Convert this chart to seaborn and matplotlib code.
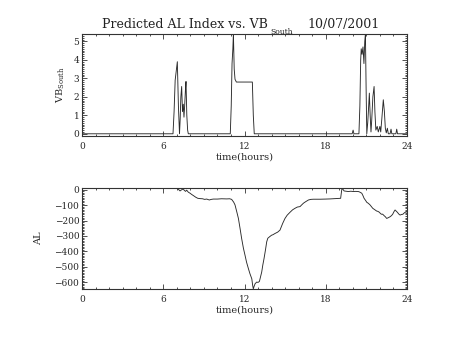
import matplotlib
matplotlib.use("Agg")
import matplotlib.pyplot as plt
import seaborn as sns
import pandas as pd
from matplotlib.ticker import MultipleLocator

# ---------------- data ----------------
vb_time = [0, 6.72, 6.80, 6.88, 6.96, 7.04, 7.12, 7.20, 7.25, 7.30, 7.36, 7.42, 7.48, 7.53,
           7.58, 7.64, 7.68, 7.74, 7.80, 7.85,
           10.95, 11.02, 11.08, 11.14, 11.18, 11.24, 11.30, 11.40, 12.58, 12.65, 12.72,
           19.95, 20.02, 20.08,
           20.45, 20.52, 20.58, 20.62, 20.68, 20.75, 20.82, 20.88, 20.93, 20.98, 21.03,
           21.10, 21.17, 21.22, 21.28, 21.34, 21.39, 21.48, 21.57, 21.63, 21.70, 21.80,
           21.88, 22.00, 22.06, 22.14, 22.25, 22.33, 22.40, 22.47, 22.55, 22.62, 22.75,
           22.82, 22.88, 23.18, 23.24, 23.30, 24.0]
vb_south = [0, 0, 1.2, 2.9, 3.4, 3.9, 1.5, 0, 0.8, 2.0, 2.56, 1.2, 1.6, 0.9,
            1.5, 2.4, 2.83, 1.0, 0.2, 0,
            0, 1.5, 3.8, 4.6, 5.4, 3.5, 2.95, 2.8, 2.8, 1.0, 0,
            0, 0.2, 0,
            0, 1.5, 4.0, 4.6, 4.3, 4.7, 3.8, 5.0, 5.4, 2.5, 0,
            0.6, 1.5, 2.2, 1.0, 0.1, 0.67, 2.0, 2.56, 1.2, 0.2, 0.4,
            0.1, 0.4, 0.1, 0.8, 1.84, 1.2, 0.3, 0.05, 0.3, 0, 0,
            0.25, 0, 0, 0.25, 0, 0]

al_time = [0, 7.0, 7.1, 7.24, 7.35, 7.48, 7.55, 7.65, 7.73, 7.85, 7.98, 8.1, 8.22, 8.4, 8.55,
           8.72, 8.9, 9.05, 9.21, 9.4, 9.55, 9.70, 10.0, 10.3, 10.69, 10.9, 11.05, 11.2, 11.30,
           11.45, 11.55, 11.67, 11.79, 11.92, 12.04, 12.15, 12.29, 12.4, 12.54, 12.6, 12.65,
           12.72, 12.78, 12.9, 13.0, 13.1, 13.2, 13.27, 13.35, 13.44, 13.55, 13.64, 13.72,
           13.84, 14.0, 14.1, 14.25, 14.45, 14.62, 14.72, 14.82, 14.99, 15.15, 15.36, 15.55,
           15.73, 15.9, 16.1, 16.2, 16.35, 16.5, 16.72, 16.9, 17.09, 17.58, 18.0, 18.32, 18.7,
           19.1, 19.15, 19.2, 19.3, 19.35, 19.5, 19.67, 19.85, 20.04, 20.2, 20.41, 20.5, 20.66,
           20.75, 20.83, 20.95, 21.03, 21.15, 21.27, 21.38, 21.47, 21.6, 21.76, 21.85, 21.96,
           22.05, 22.13, 22.2, 22.31, 22.4, 22.5, 22.6, 22.75, 22.85, 22.94, 23.05, 23.12,
           23.2, 23.29, 23.4, 23.49, 23.6, 23.69, 23.8, 23.86, 24.0]
al_index = [10, 10, 5, -7, 0, 6, -3, -10, -2, -15, -22, -30, -37, -48, -55,
            -57, -58, -62, -60, -66, -62, -60, -60, -58, -59, -58, -62, -80, -98,
            -150, -186, -250, -317, -380, -426, -470, -513, -545, -579, -620, -644,
            -625, -611, -600, -602, -596, -560, -535, -490, -448, -390, -338, -315,
            -306, -295, -292, -284, -275, -262, -240, -218, -186, -165, -146, -130,
            -120, -112, -109, -100, -87, -78, -66, -62, -61, -61, -60, -59, -57,
            -55, -20, 11, 0, -7, -9, -11, -9, -11, -10, -11, -14, -22,
            -38, -55, -70, -81, -88, -98, -110, -120, -128, -138, -140, -146,
            -155, -159, -158, -168, -175, -186, -182, -175, -168, -159, -140, -131,
            -138, -146, -158, -164, -160, -159, -150, -146, -143]

x_ticks = [0, 6, 12, 18, 24]

vb_df = pd.DataFrame({"time": vb_time, "vb": vb_south})
al_df = pd.DataFrame({"time": al_time, "al": al_index})

# ---------------- style ----------------
sns.set_style("white")
plt.rcParams["font.family"] = ["DejaVu Serif"]
plt.rcParams["mathtext.fontset"] = "dejavuserif"

W, H = 454, 341
fig = plt.figure(figsize=(W / 100, H / 100), dpi=100)
fig.patch.set_facecolor("white")

left, right = 82, 407
ax1 = fig.add_axes([left / W, 1 - 136 / H, (right - left) / W, (136 - 34) / H])
ax2 = fig.add_axes([left / W, 1 - 289 / H, (right - left) / W, (289 - 188) / H])

line_col = "#2a2a2a"
sns.lineplot(data=vb_df, x="time", y="vb", ax=ax1, color=line_col, lw=0.65,
             estimator=None, sort=False)
sns.lineplot(data=al_df, x="time", y="al", ax=ax2, color=line_col, lw=0.65,
             estimator=None, sort=False)

ax1.set_ylim(-0.12, 5.4)
ax2.set_ylim(-645, 12)

for ax, ymaj, ymin in [(ax1, 1, 0.1), (ax2, 100, 10)]:
    ax.set_xlim(0, 24)
    ax.set_xticks(x_ticks)
    ax.set_xticklabels([str(t) for t in x_ticks])
    ax.xaxis.set_minor_locator(MultipleLocator(1))
    ax.yaxis.set_major_locator(MultipleLocator(ymaj))
    ax.yaxis.set_minor_locator(MultipleLocator(ymin))
    for sp in ax.spines.values():
        sp.set_visible(True)
        sp.set_color("#333333")
        sp.set_linewidth(0.8)
    ax.tick_params(which="both", direction="in", top=True, right=True,
                   bottom=True, left=True, color="#333333", width=0.6)
    ax.tick_params(which="major", length=3.5)
    ax.tick_params(which="minor", length=1.6)
    ax.tick_params(axis="x", which="major", pad=4, labelsize=6.5)
    ax.tick_params(axis="y", which="major", pad=2, labelsize=6.5)
    ax.set_xlabel("time(hours)", fontsize=7)
    ax.xaxis.set_label_coords(0.5, -0.165)
    ax.xaxis.label.set_va("top")

ax1.set_ylabel(r"VB$_{\mathrm{South}}$", fontsize=7)
ax1.yaxis.set_label_coords(-0.045, 0.5)
ax2.set_ylabel("AL", fontsize=7)
ax2.yaxis.set_label_coords(-0.12, 0.5)

# title (with subscript)
fig.text(102 / W, 1 - 28 / H, "Predicted AL Index vs. VB", fontsize=9.0,
         ha="left", va="baseline", color="#222222")
fig.text(270 / W, 1 - 34 / H, "South", fontsize=5.5, ha="left", va="baseline",
         color="#222222")
fig.text(307 / W, 1 - 28 / H, "10/07/2001", fontsize=9.0, ha="left", va="baseline",
         color="#222222")

fig.savefig("out.png", dpi=100, facecolor="white")
